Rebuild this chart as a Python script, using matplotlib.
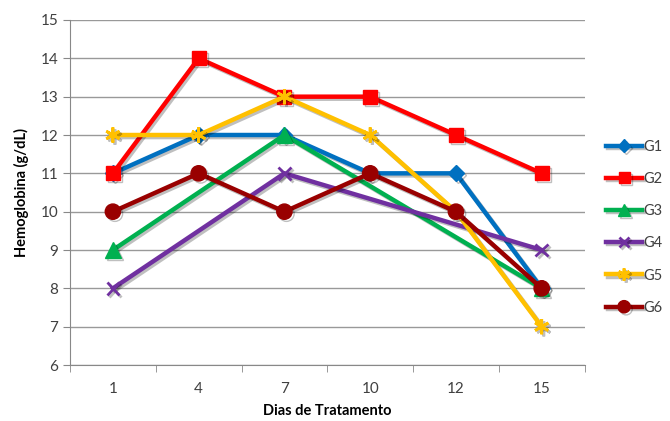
import matplotlib
matplotlib.use("Agg")
import matplotlib.pyplot as plt
import matplotlib.patheffects as pe
import numpy as np

plt.rcParams['font.family'] = ['Lato', 'DejaVu Sans']

dias = ["1", "4", "7", "10", "12", "15"]
nan = np.nan
g1 = [11, 12, 12, 11, 11, 8]
g2 = [11, 14, 13, 13, 12, 11]
g3 = [9, nan, 12, nan, nan, 8]
g4 = [8, nan, 11, nan, nan, 9]
g5 = [12, 12, 13, 12, 10, 7]
g6 = [10, 11, 10, 11, 10, 8]

series = [
    ("G1", g1, "#0070C0", "D", 8),
    ("G2", g2, "#FF0000", "s", 10),
    ("G3", g3, "#00B050", "^", 11),
    ("G4", g4, "#7030A0", "x", 9),
    ("G5", g5, "#FFC000", (6, 2, 0), 11),
    ("G6", g6, "#990000", "o", 11),
]

fig = plt.figure(figsize=(6.7, 4.21), dpi=100)
ax = fig.add_axes([0.1045, 0.133, 0.768, 0.8195])

x = np.arange(len(dias))
shadow = [pe.SimpleLineShadow(offset=(1.5, -1.5), alpha=0.25), pe.Normal()]
for nome, vals, cor, mk, ms in series:
    v = np.array(vals, dtype=float)
    ok = ~np.isnan(v)
    ax.plot(x[ok], v[ok], color=cor, lw=3.2, marker=mk, markersize=ms,
            markeredgewidth=2.0 if mk in ("x", (6, 2, 0)) else 1,
            markeredgecolor=cor, markerfacecolor=cor, label=nome,
            path_effects=shadow, zorder=3)

ax.set_xlim(-0.5, 5.5)
ax.set_ylim(6, 15)
ax.set_yticks(range(6, 16))
ax.set_xticks(x)
ax.set_xticklabels(dias)
ax.set_xticks(np.arange(-0.5, 6, 1), minor=True)
ax.tick_params(axis='x', which='major', length=0, pad=12, labelsize=11, colors='#404040')
ax.tick_params(axis='x', which='minor', length=5, color='#888888')
ax.tick_params(axis='y', length=5, color='#888888', labelsize=11, colors='#404040')
ax.grid(axis='y', color='#999999', lw=1)
ax.set_axisbelow(True)
for s in ['top', 'right']:
    ax.spines[s].set_visible(False)
for s in ['left', 'bottom']:
    ax.spines[s].set_color('#888888')

ax.set_xlabel("Dias de Tratamento", fontweight='bold', fontsize=10.5, labelpad=6)
ax.set_ylabel("Hemoglobina (g/dL)", fontweight='bold', fontsize=10.5, labelpad=8)

leg = ax.legend(loc='upper left', bbox_to_anchor=(1.03, 0.67), frameon=False,
                fontsize=10.5, handlelength=2.5, labelspacing=1.25,
                handletextpad=0.1, borderaxespad=0, markerscale=0.8)
for t in leg.get_texts():
    t.set_color('#404040')

fig.savefig("out.png", dpi=100)
